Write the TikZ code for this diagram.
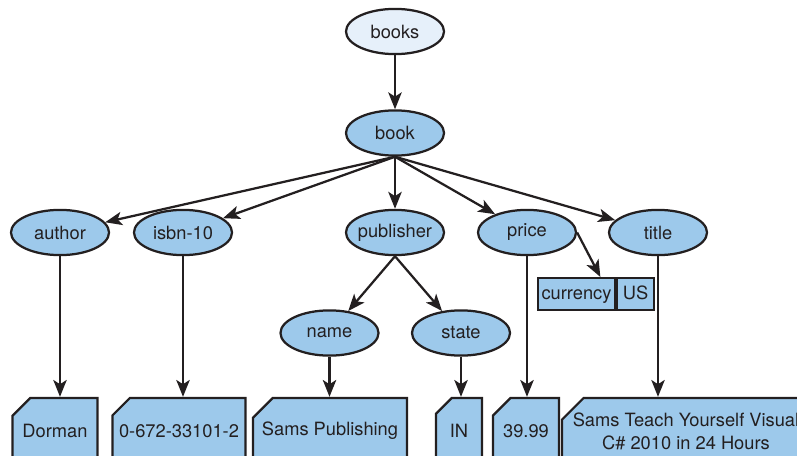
\documentclass[tikz,border=0pt]{standalone}
\usepackage{fontspec}
\setmainfont{TeX Gyre Heros}
\usetikzlibrary{arrows.meta,shapes.geometric,shapes.misc,calc}
\definecolor{ink}{HTML}{231F20}
\definecolor{nodeblue}{HTML}{9DC9EB}
\definecolor{rootblue}{HTML}{E6F0FA}
\begin{document}
\begin{tikzpicture}[x=0.025cm, y=-0.025cm, >={Stealth[length=12pt,width=9.5pt,inset=3pt]},
  font=\fontsize{13pt}{16.3pt}\selectfont, text=ink,
  elem/.style={ellipse, draw=ink, line width=1.6pt, fill=nodeblue, minimum width=2.45cm, minimum height=1.13cm, inner xsep=-4pt, inner ysep=0pt},
  leaf/.style={chamfered rectangle, chamfered rectangle corners=north west, chamfered rectangle xsep=0.27cm, chamfered rectangle ysep=0.27cm, draw=ink, line width=1.6pt, fill=nodeblue, minimum height=1.65cm, inner sep=0pt, align=center},
  attr/.style={rectangle, draw=ink, line width=1.4pt, fill=nodeblue, minimum height=0.8cm, inner sep=0pt, text height=9.5pt, text depth=1pt},
  link/.style={->, draw=ink, line width=1.6pt}]
\useasboundingbox (0,0) rectangle (797,455);
\clip (0,0) rectangle (797,455);
\node[elem, fill=rootblue] (books) at (395,31.5) {books};
\node[elem] (book) at (395,133) {book};
\node[elem] (author) at (60,232.5) {author};
\node[elem] (isbn) at (183,232.5) {isbn-10};
\node[elem] (publisher) at (395,232.5) {publisher};
\node[elem] (price) at (527,232.5) {price};
\node[elem] (title) at (658,232.5) {title};
\node[elem] (name) at (329.5,333) {name};
\node[elem] (state) at (461,333) {state};
\node[attr, minimum width=1.94cm] (cur) at (576.5,294) {currency};
\node[attr, minimum width=0.94cm] (curval) at (635.5,294) {US};
\node[leaf, minimum width=2.12cm] (dorman) at (55,431) {Dorman};
\node[leaf, minimum width=3.3cm] (isbnval) at (179,431) {0-672-33101-2};
\node[leaf, minimum width=3.6cm] (pubname) at (330,431) {Sams Publishing};
\node[leaf, minimum width=1.15cm] (stateval) at (459,431) {IN};
\node[leaf, minimum width=1.65cm] (priceval) at (526,431) {39.99};
\node[leaf, minimum width=5.9cm] (titleval) at (686,431) {Sams Teach Yourself Visual\\C\# 2010 in 24 Hours};
\draw[link] (books) -- (book);
\draw[link] (book.south) -- (author);
\draw[link] (book.south) -- (isbn);
\draw[link] (book.south) -- (publisher);
\draw[link] (book.south) -- (price);
\draw[link] (book.south) -- (title);
\draw[link] (publisher.south) -- (name);
\draw[link] (publisher.south) -- (state);
\draw[link] (price.east) -- ($(cur.north)!0.6!(cur.north east)$);
\draw[link] (author) -- (author |- dorman.north);
\draw[link] (isbn) -- (isbn |- isbnval.north);
\draw[link] (name) -- (name |- pubname.north);
\draw[link] (state) -- (state |- stateval.north);
\draw[link] (price) -- (price |- priceval.north);
\draw[link] (title) -- (title |- titleval.north);
\end{tikzpicture}
\end{document}
